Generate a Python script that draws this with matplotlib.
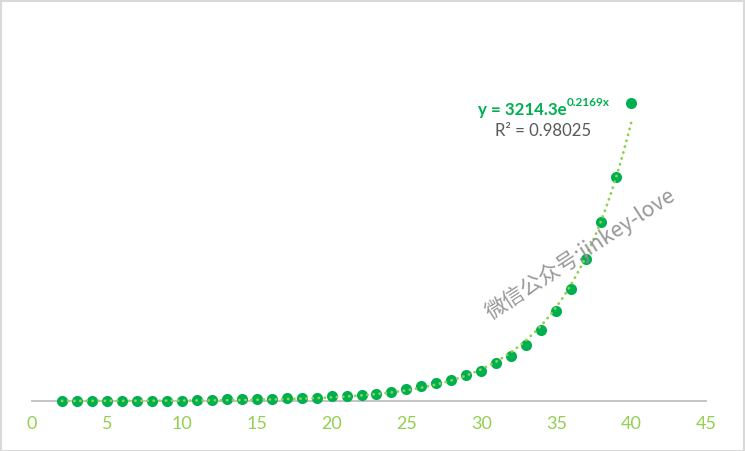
import matplotlib
matplotlib.use("Agg")
import matplotlib.pyplot as plt
import numpy as np
from matplotlib.patches import Rectangle

# ---- data ----
x_vals = list(range(2, 41))
y_vals = [20000, 14000, 27000, 27000, 27000, 27000, 27000, 27000, 27000, 34000,
          41000, 108000, 122000, 122000, 136000, 203000, 217000, 224000, 305000, 305000,
          373000, 508000, 610000, 780000, 1017000, 1187000, 1390000, 1729000, 2034000, 2576000,
          3051000, 3797000, 4814000, 6102000, 7594000, 9628000, 12136000, 15187000, 20204000]
x_ticks = [0, 5, 10, 15, 20, 25, 30, 35, 40, 45]
trend_a = 3214.3
trend_b = 0.2169
eq_main = "y = 3214.3e"
eq_sup = "0.2169x"
r2_text = "R² = 0.98025"
watermark = "微信公众号:jinkey-love"

W, H = 745, 451
fig = plt.figure(figsize=(W / 100, H / 100), dpi=100)
fig.patch.set_facecolor("white")
fig.patches.append(Rectangle((0.5 / W, 0.5 / H), 1 - 1.5 / W, 1 - 1.5 / H,
                             transform=fig.transFigure, fill=False,
                             edgecolor="#d9d9d9", linewidth=1.5))

left_px, right_px, bottom_px, top_px = 32, 706, 401, 32
ax = fig.add_axes([left_px / W, 1 - bottom_px / H, (right_px - left_px) / W,
                   (bottom_px - top_px) / H])
ax.set_xlim(0, 45)
ax.set_ylim(0, 25e6)
for s in ["top", "right", "left"]:
    ax.spines[s].set_visible(False)
ax.spines["bottom"].set_color("#bfbfbf")
ax.spines["bottom"].set_linewidth(1.3)
ax.set_yticks([])
ax.set_xticks(x_ticks)
ax.tick_params(axis="x", length=0, pad=11, labelsize=13, labelcolor="#92d050")
for lab in ax.get_xticklabels():
    lab.set_fontfamily("Lato")

ax.plot(x_vals, y_vals, "o", color="#00b050", markersize=8, markeredgewidth=0,
        clip_on=False, zorder=3)
xt = np.linspace(min(x_vals), max(x_vals), 300)
ax.plot(xt, trend_a * np.exp(trend_b * xt), color="#92d050", linewidth=2.0,
        linestyle=(0, (0.1, 2.1)), dash_capstyle="round", zorder=4, clip_on=False)

t1 = fig.text(478 / W, 1 - 110 / H, eq_main, fontsize=12.2, fontweight="bold",
              color="#00b050", family="Lato", va="center", ha="left")
ax.annotate(eq_sup, xy=(1, 0.6), xycoords=t1, fontsize=8.5, fontweight="bold",
            color="#00b050", family="Lato", va="bottom", ha="left")
fig.text(495 / W, 1 - 131 / H, r2_text, fontsize=12.1, color="#595959",
         family="Lato", va="center", ha="left")

fig.text(580 / W, 1 - 254 / H, watermark, fontsize=15.4, color="#8c8c8c",
         family=["Noto Sans CJK SC", "DejaVu Sans"], rotation=33,
         rotation_mode="anchor", ha="center", va="center", alpha=0.9)

fig.savefig("out.png", dpi=100)
